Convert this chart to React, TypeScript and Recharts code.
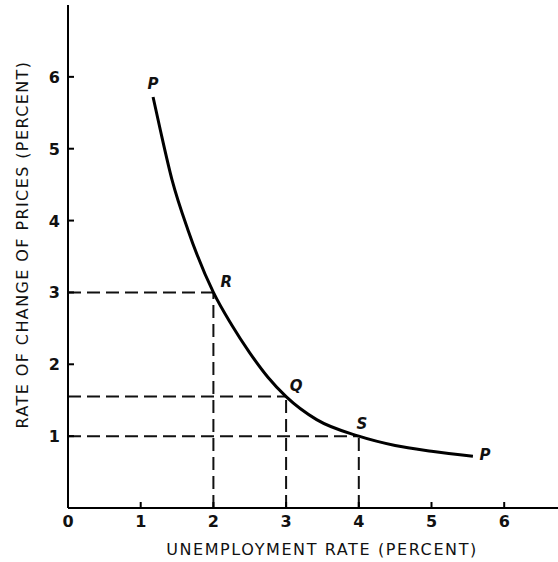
import React from 'react';
import { ComposedChart, Line, XAxis, YAxis, ReferenceLine, ReferenceDot } from 'recharts';

const xTicks = [0, 1, 2, 3, 4, 5, 6];
const yTicks = [1, 2, 3, 4, 5, 6];

const curveX = [1.17, 1.27, 1.43, 1.65, 2.0, 2.25, 2.5, 2.75, 3.0, 3.42, 4.0, 4.5, 5.0, 5.57];
const curveY = [5.72, 5.26, 4.57, 3.87, 3.0, 2.55, 2.16, 1.82, 1.55, 1.23, 1.0, 0.87, 0.79, 0.72];
const curveData = curveX.map((x, i) => ({ x, y: curveY[i] }));

const guideNames = ['R', 'Q', 'S'];
const guideX = [2, 3, 4];
const guideY = [3, 1.55, 1.0];
const guideOffsets = [
  [13, -5],
  [10, -6],
  [3, -7],
];

const endLabels = ['P', 'P'];
const endOffsets = [
  [0, -8],
  [12, 4],
];
const endPoints = [curveData[0], curveData[curveData.length - 1]];

const FONT = '"DejaVu Sans", sans-serif';

const XTick = (props: any) => {
  const { x, y, payload } = props;
  return (
    <g>
      {payload.value !== 0 && <line x1={x} y1={y} x2={x} y2={y - 6} stroke="#000" strokeWidth={2} />}
      <text x={x} y={y + 19} textAnchor="middle" fontFamily={FONT} fontSize={16} fontWeight="bold" fill="#111">
        {payload.value}
      </text>
    </g>
  );
};

const YTick = (props: any) => {
  const { x, y, payload } = props;
  return (
    <g>
      <line x1={x} y1={y} x2={x + 6} y2={y} stroke="#000" strokeWidth={2} />
      <text x={x - 8} y={y + 6} textAnchor="end" fontFamily={FONT} fontSize={16} fontWeight="bold" fill="#111">
        {payload.value}
      </text>
    </g>
  );
};

const makeLabel = (txt: string, dx: number, dy: number) => (p: any) => (
  <text
    x={p.cx + dx}
    y={p.cy + dy}
    textAnchor="middle"
    fontFamily={FONT}
    fontSize={15}
    fontWeight="bold"
    fontStyle="italic"
    fill="#111"
  >
    {txt}
  </text>
);

export default function App() {
  return (
    <div style={{ position: 'fixed', left: 0, top: 0, background: '#fff' }}>
      <ComposedChart width={558} height={562} margin={{ top: 5, right: 0, bottom: 0, left: 0 }}>
        <XAxis
          type="number"
          dataKey="x"
          domain={[0, 6.74]}
          ticks={xTicks}
          allowDataOverflow
          height={54}
          tickSize={0}
          tickMargin={0}
          tickLine={false}
          tick={<XTick />}
          axisLine={{ stroke: '#000', strokeWidth: 2 }}
          label={{
            value: 'UNEMPLOYMENT RATE (PERCENT)',
            position: 'insideBottom',
            offset: 7,
            fontFamily: FONT,
            fontSize: 16,
            fill: '#111',
            dx: 9,
            style: { letterSpacing: '1.6px' },
          }}
        />
        <YAxis
          type="number"
          dataKey="y"
          domain={[0, 7]}
          ticks={yTicks}
          allowDataOverflow
          width={68}
          tickSize={0}
          tickMargin={0}
          tickLine={false}
          tick={<YTick />}
          axisLine={{ stroke: '#000', strokeWidth: 2 }}
          label={{
            value: 'RATE OF CHANGE OF PRICES (PERCENT)',
            angle: -90,
            position: 'insideLeft',
            offset: 22,
            fontFamily: FONT,
            fontSize: 16,
            fill: '#111',
            dy: -12,
            style: { textAnchor: 'middle', letterSpacing: '1.4px' },
          }}
        />
        {guideX.map((gx, i) => (
          <ReferenceLine
            key={'h' + i}
            segment={[
              { x: 0, y: guideY[i] },
              { x: gx, y: guideY[i] },
            ]}
            stroke="#111"
            strokeWidth={2}
            strokeDasharray="13 6"
          />
        ))}
        {guideX.map((gx, i) => (
          <ReferenceLine
            key={'v' + i}
            segment={[
              { x: gx, y: 0 },
              { x: gx, y: guideY[i] },
            ]}
            stroke="#111"
            strokeWidth={2}
            strokeDasharray="13 6"
          />
        ))}
        <Line
          data={curveData}
          dataKey="y"
          type="monotoneX"
          stroke="#000"
          strokeWidth={3}
          dot={false}
          isAnimationActive={false}
        />
        {guideX.map((gx, i) => (
          <ReferenceDot
            key={'l' + i}
            x={gx}
            y={guideY[i]}
            r={0}
            shape={makeLabel(guideNames[i], guideOffsets[i][0], guideOffsets[i][1])}
          />
        ))}
        {endPoints.map((pt, i) => (
          <ReferenceDot
            key={'p' + i}
            x={pt.x}
            y={pt.y}
            r={0}
            shape={makeLabel(endLabels[i], endOffsets[i][0], endOffsets[i][1])}
          />
        ))}
      </ComposedChart>
    </div>
  );
}
